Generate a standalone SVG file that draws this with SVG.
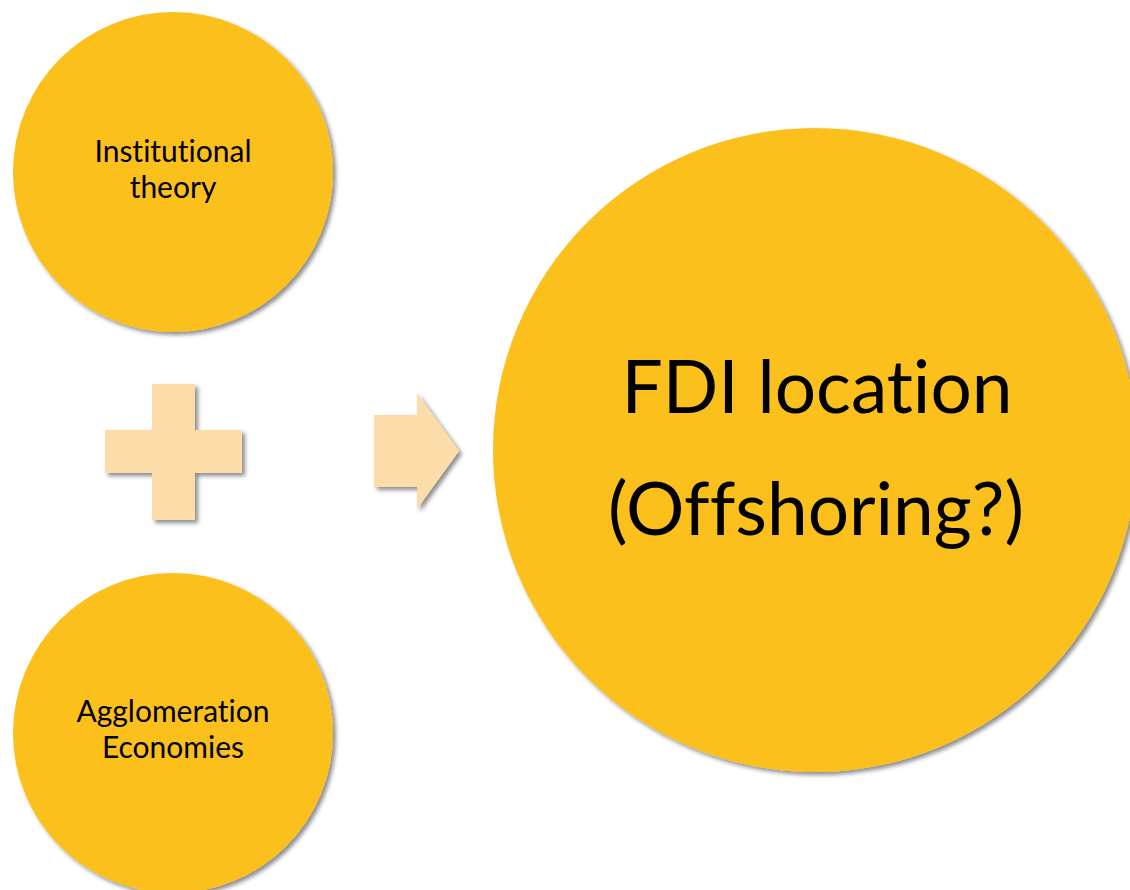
<svg xmlns="http://www.w3.org/2000/svg" width="1130" height="890" viewBox="0 0 1130 890">
  <defs>
    <filter id="shadow" x="-10%" y="-10%" width="125%" height="125%">
      <feDropShadow dx="3" dy="3" stdDeviation="2" flood-color="#000000" flood-opacity="0.45"/>
    </filter>
  </defs>
  <style>
    .circle { fill: #FBC01F; filter: url(#shadow); }
    .shape { fill: #FCDCA8; filter: url(#shadow); }
    .label { font-family: Lato, "Open Sans", sans-serif; fill: #000000; text-anchor: middle; font-variant-ligatures: none; }
    .small { font-size: 30px; }
    .big { font-size: 73px; }
  </style>
  <rect width="1130" height="890" fill="#FFFFFF"/>

  <g id="institutional-theory">
    <circle class="circle" cx="173" cy="172" r="160"/>
    <text class="label small" x="173" y="162">Institutional</text>
    <text class="label small" x="173" y="198">theory</text>
  </g>

  <g id="agglomeration-economies">
    <circle class="circle" cx="173" cy="733" r="160"/>
    <text class="label small" x="173" y="722">Agglomeration</text>
    <text class="label small" x="173" y="758">Economies</text>
  </g>

  <g id="fdi-location">
    <circle class="circle" cx="815" cy="450" r="322"/>
    <text class="label big" x="817" y="413">FDI location</text>
    <text class="label big" x="816" y="535">(Offshoring?)</text>
  </g>

  <g id="connectors">
    <!-- plus sign joining the two theories -->
    <path class="shape" d="M152,384 H195 V430 H242 V473 H195 V520 H152 V473 H105 V430 H152 Z"/>
    <!-- block arrow pointing to the outcome -->
    <path class="shape" d="M374,415 H417 V393 L459,451 L417,509 V487 H374 Z"/>
  </g>
</svg>
